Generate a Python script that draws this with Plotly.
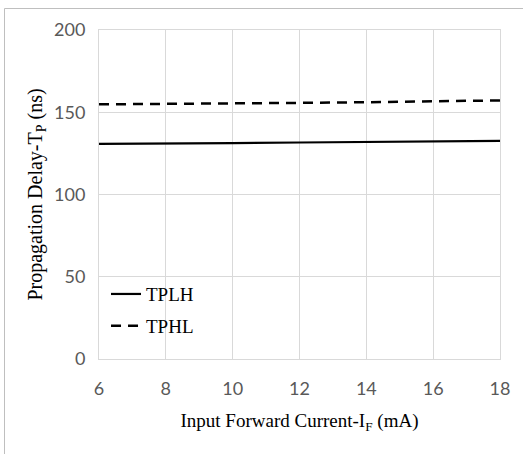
import plotly.graph_objects as go

current_ma = [6, 8, 10, 12, 14, 16, 18]
tplh_ns = [130.8, 130.9, 131.2, 131.6, 131.8, 132.3, 132.6]
tphl_ns = [154.8, 155.0, 155.3, 155.7, 156.1, 156.6, 157.2]
x_ticks = [6, 8, 10, 12, 14, 16, 18]
y_ticks = [0, 50, 100, 150, 200]

W, H = 523, 454
ml, mr, mt, mb = 99, 23, 30, 95
pw, ph = W - ml - mr, H - mt - mb

def px(p):
    return (p - ml) / pw

def py(p):
    return (H - mb - p) / ph

fig = go.Figure()
fig.add_trace(go.Scatter(x=current_ma, y=tplh_ns, mode="lines", name="TPLH",
                         line=dict(color="black", width=2.2), legendgroup="a"))
fig.add_trace(go.Scatter(x=current_ma, y=tphl_ns, mode="lines", name="TPHL",
                         line=dict(color="black", width=2.5, dash="10px,7px"), legendgroup="b"))

tick_font = dict(family="Lato, Open Sans, Liberation Sans", size=18, color="#595959")
xtitle_font = dict(family="Liberation Serif, DejaVu Serif", size=19, color="black")
ytitle_font = dict(family="Liberation Serif, DejaVu Serif", size=20, color="black")

fig.update_layout(
    width=W, height=H,
    margin=dict(l=ml, r=mr, t=mt, b=mb),
    paper_bgcolor="white", plot_bgcolor="white",
    showlegend=True,
    legend=dict(x=0.0175, y=0.255, xanchor="left", yanchor="top",
                bgcolor="rgba(0,0,0,0)", tracegroupgap=4,
                font=dict(family="Liberation Serif, DejaVu Serif", size=19, color="black")),
    xaxis=dict(range=[6, 18], tickvals=x_ticks, showgrid=True, gridcolor="#d9d9d9", gridwidth=1,
               showline=True, linecolor="#d9d9d9", mirror=True, ticks="", zeroline=False,
               tickfont=tick_font, ticklabelstandoff=13,
               title=dict(text="Input Forward Current-I<sub>F</sub> (mA)", font=xtitle_font, standoff=16)),
    yaxis=dict(range=[0, 200], tickvals=y_ticks, showgrid=True, gridcolor="#d9d9d9", gridwidth=1,
               showline=True, linecolor="#d9d9d9", mirror=True, ticks="", zeroline=False,
               tickfont=tick_font, ticklabelstandoff=9,
               title=dict(text="Propagation Delay-T<sub>P</sub> (ns)", font=ytitle_font, standoff=6)),
    shapes=[dict(type="rect", xref="paper", yref="paper",
                 x0=px(4.5), x1=px(535), y0=py(470), y1=py(8.5),
                 line=dict(color="#bfbfbf", width=1), fillcolor="rgba(0,0,0,0)", layer="below")],
)

fig.write_html("out.html", config={"displayModeBar": False},
               post_script="document.body.style.margin='0';")
